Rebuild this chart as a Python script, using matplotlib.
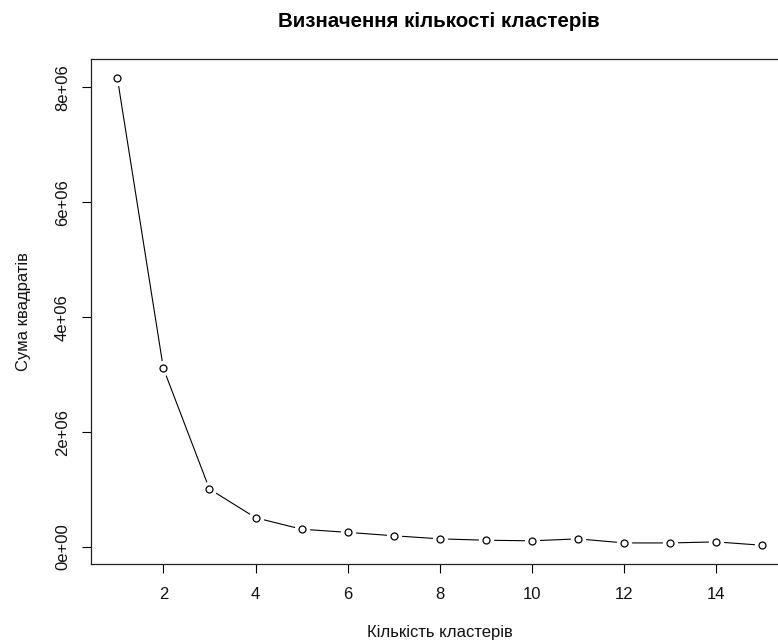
import matplotlib
matplotlib.use("Agg")
import matplotlib.pyplot as plt

clusters = list(range(1, 16))
wss = [8.17e6, 3.11e6, 1.01e6, 0.51e6, 0.31e6, 0.255e6, 0.196e6, 0.142e6,
       0.118e6, 0.108e6, 0.142e6, 0.071e6, 0.071e6, 0.089e6, 0.03e6]
x_ticks = [2, 4, 6, 8, 10, 12, 14]
y_ticks = [0, 2e6, 4e6, 6e6, 8e6]
y_tick_labels = ["0e+00", "2e+06", "4e+06", "6e+06", "8e+06"]

plt.rcParams['font.family'] = ['Liberation Sans', 'DejaVu Sans']

fig = plt.figure(figsize=(7.78, 6.41), dpi=100)
ax = fig.add_axes([0.1176, 0.1201, 0.8954, 0.788])

# R-style type="b": line with small gaps around the points
ax.plot(clusters, wss, color="black", linewidth=0.8, zorder=1)
ax.plot(clusters, wss, linestyle="none", marker="o", markersize=10,
        markerfacecolor="white", markeredgecolor="white", zorder=2)
ax.plot(clusters, wss, linestyle="none", marker="o", markersize=5,
        markerfacecolor="white", markeredgecolor="black", markeredgewidth=0.9, zorder=3)

ax.set_xlim(0.44, 15.56)
ax.set_ylim(-0.296e6, 8.496e6)

ax.set_xticks(x_ticks)
ax.set_xticklabels([str(t) for t in x_ticks], fontsize=12)
ax.set_yticks(y_ticks)
ax.set_yticklabels(y_tick_labels, fontsize=12, rotation=90, va="center")
ax.tick_params(axis="both", direction="out", length=6.5, width=0.8, color="black",
               labelcolor="#111111")
ax.tick_params(axis="x", pad=10)
ax.tick_params(axis="y", pad=9)

for s in ax.spines.values():
    s.set_linewidth(0.9)
    s.set_color("#222222")

fig.text(0.564, 0.966, "Визначення кількості кластерів", fontsize=14.8,
         fontweight="bold", ha="center", va="center")
fig.text(0.5652, 0.0125, "Кількість кластерів", fontsize=12, ha="center", va="center",
         color="#111111")
fig.text(0.030, 0.514, "Сума квадратів", fontsize=12, ha="center", va="center",
         rotation=90, color="#111111")

fig.savefig("out.png", dpi=100)
